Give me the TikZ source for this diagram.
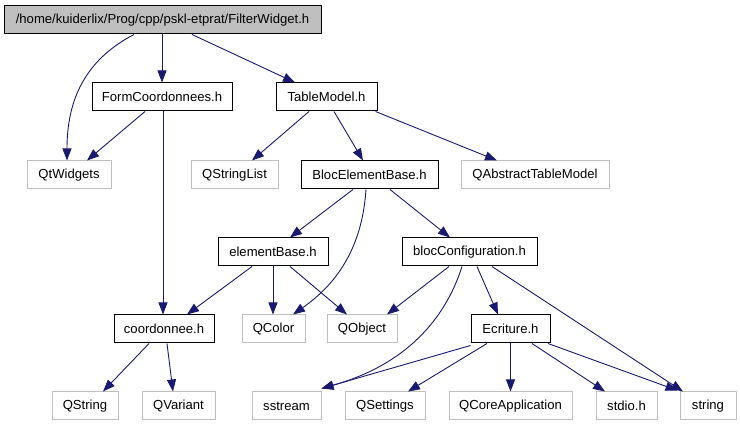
\documentclass[tikz,border=0pt]{standalone}
\usepackage{fontspec}
\setmainfont{Liberation Sans}
\usetikzlibrary{arrows.meta}
\definecolor{edgecol}{RGB}{25,25,112}
\definecolor{extgray}{RGB}{191,191,191}
\begin{document}
\begin{tikzpicture}[x=1pt,y=-1pt,
  box/.style={draw=black,fill=white,line width=1pt,inner sep=0pt,minimum height=28pt,font=\fontsize{13.1}{15}\selectfont},
  rootbox/.style={box,fill=extgray},
  ext/.style={box,draw=extgray},
  dep/.style={draw=edgecol,line width=0.9pt,-{Triangle[length=12pt,width=9pt]}}]
\useasboundingbox (0,0) rectangle (740,427);
% nodes
\node[rootbox,minimum width=317pt] (root) at (162.5,20) {/home/kuiderlix/Prog/cpp/pskl-etprat/FilterWidget.h};
\node[box,minimum width=140pt] (form) at (162,97) {FormCoordonnees.h};
\node[box,minimum width=101pt] (table) at (326.5,97) {TableModel.h};
\node[ext,minimum width=84pt] (qtw) at (69,175) {QtWidgets};
\node[ext,minimum width=87pt] (qsl) at (234.5,175) {QStringList};
\node[box,minimum width=137pt] (bloc) at (369.5,175) {BlocElementBase.h};
\node[ext,minimum width=148pt] (qatm) at (535,175) {QAbstractTableModel};
\node[box,minimum width=110pt] (elem) at (273,252) {elementBase.h};
\node[box,minimum width=135pt] (bconf) at (469.5,252) {blocConfiguration.h};
\node[box,minimum width=100pt] (coord) at (164,329) {coordonnee.h};
\node[ext,minimum width=63pt] (qcolor) at (273.5,329) {QColor};
\node[ext,minimum width=70pt] (qobject) at (362,329) {QObject};
\node[box,minimum width=79pt] (ecrit) at (510.5,329) {Ecriture.h};
\node[ext,minimum width=66pt] (qstring) at (85,406) {QString};
\node[ext,minimum width=73pt] (qvariant) at (178.5,406) {QVariant};
\node[ext,minimum width=69pt] (sstream) at (286.5,406) {sstream};
\node[ext,minimum width=80pt] (qsettings) at (385,406) {QSettings};
\node[ext,minimum width=123pt] (qcore) at (510.5,406) {QCoreApplication};
\node[ext,minimum width=61pt] (stdio) at (626.5,406) {stdio.h};
\node[ext,minimum width=56pt] (string) at (708,406) {string};
% edges
\draw[dep] ([xshift=-28.5pt]root.south) .. controls (85,60) and (67,100) .. ([xshift=-2pt]qtw.north);
\draw[dep] ([xshift=-0.5pt]root.south) -- (form.north);
\draw[dep] ([xshift=29.5pt]root.south) -- ([xshift=-31.5pt]table.north);
\draw[dep] ([xshift=-17pt]form.south) -- ([xshift=18pt]qtw.north);
\draw[dep] ([xshift=1pt]form.south) -- ([xshift=-1pt]coord.north);
\draw[dep] ([xshift=-17.5pt]table.south) -- ([xshift=17.5pt]qsl.north);
\draw[dep] ([xshift=7.5pt]table.south) -- ([xshift=-6.5pt]bloc.north);
\draw[dep] ([xshift=-2pt]table.south east) -- ([xshift=-38pt]qatm.north);
\draw[dep] ([xshift=-16.5pt]bloc.south) -- ([xshift=17pt]elem.north);
\draw[dep] ([xshift=-3.5pt]bloc.south) .. controls (362,250) and (335,285) .. ([xshift=19.5pt]qcolor.north);
\draw[dep] ([xshift=20.5pt]bloc.south) -- ([xshift=-19.5pt]bconf.north);
\draw[dep] ([xshift=-21pt]elem.south) -- ([xshift=23pt]coord.north);
\draw[dep] (elem.south) -- ([xshift=-0.5pt]qcolor.north);
\draw[dep] ([xshift=17pt]elem.south) -- ([xshift=-15pt]qobject.north);
\draw[dep] ([xshift=-15pt]coord.south) -- ([xshift=18pt]qstring.north);
\draw[dep] ([xshift=3pt]coord.south) -- ([xshift=-5.5pt]qvariant.north);
\draw[dep] ([xshift=-20.5pt]bconf.south) -- ([xshift=25pt]qobject.north);
\draw[dep] ([xshift=-7.5pt]bconf.south) .. controls (445,320) and (405,365) .. ([yshift=3pt]sstream.north east);
\draw[dep] ([xshift=7.5pt]bconf.south) -- ([xshift=-12.5pt]ecrit.north);
\draw[dep] ([xshift=22.5pt]bconf.south) -- ([xshift=-25pt]string.north);
\draw[dep] ([yshift=-2pt]ecrit.south west) -- ([yshift=3pt]sstream.north east);
\draw[dep] ([xshift=-23.5pt]ecrit.south) -- ([xshift=23pt]qsettings.north);
\draw[dep] (ecrit.south) -- (qcore.north);
\draw[dep] ([xshift=21.5pt]ecrit.south) -- ([xshift=-21.5pt]stdio.north);
\draw[dep] ([xshift=37.5pt]ecrit.south) -- ([xshift=-2pt,yshift=1pt]string.north west);
\end{tikzpicture}
\end{document}
